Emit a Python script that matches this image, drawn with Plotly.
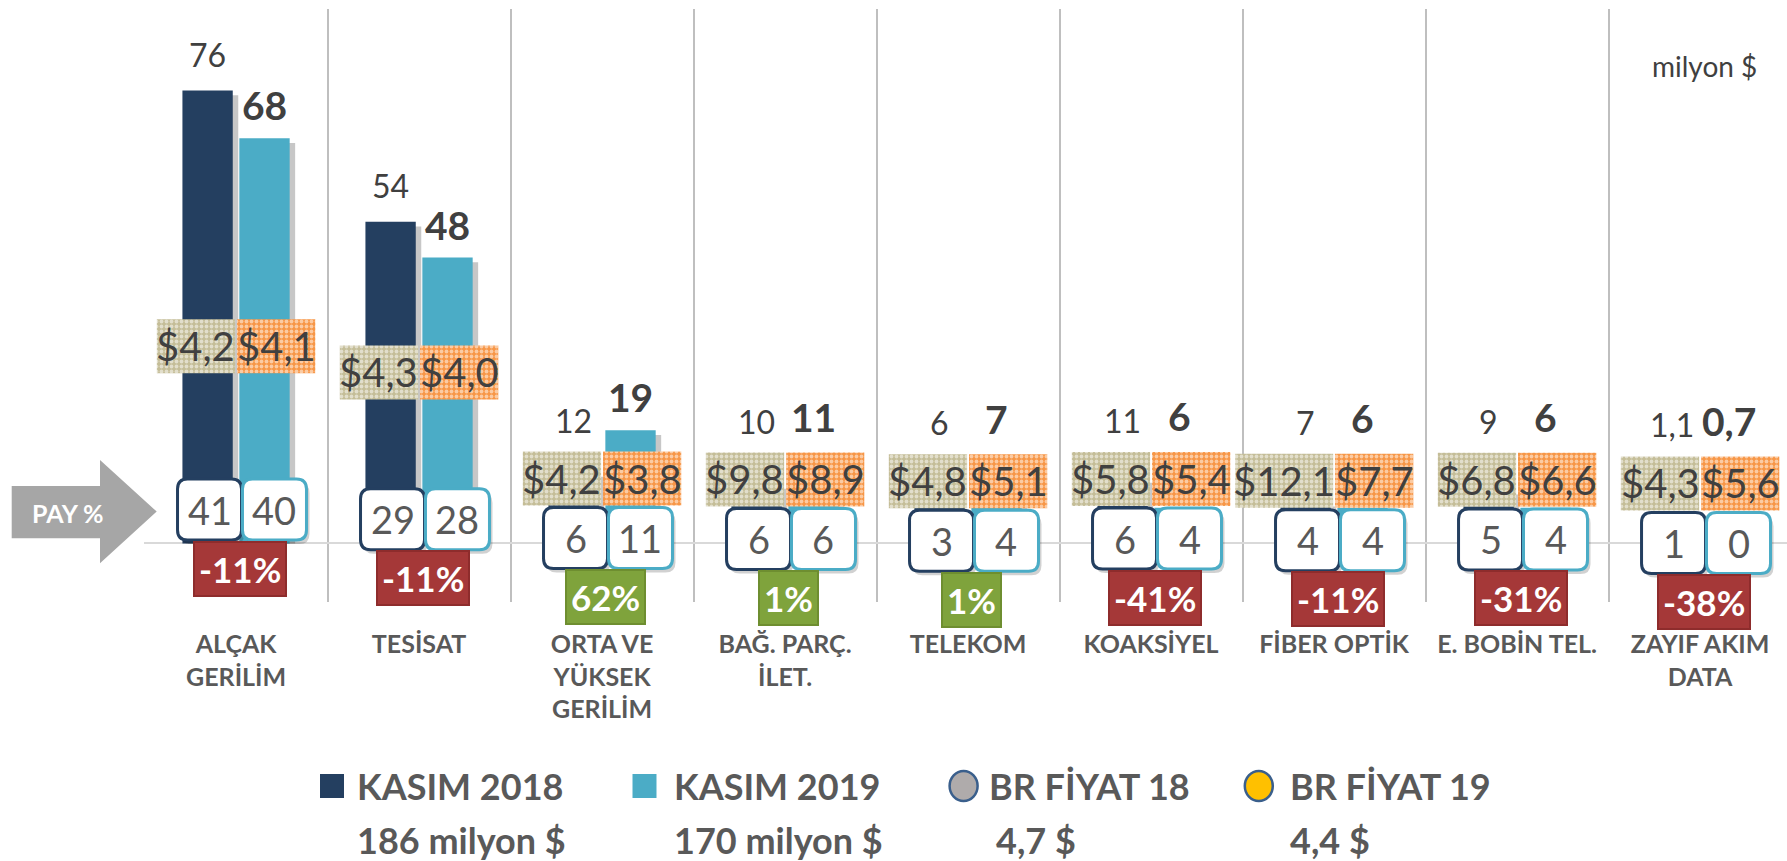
import plotly.graph_objects as go

# ---------------- data ----------------
categories = ["ALÇAK<br>GERİLİM", "TESİSAT", "ORTA VE<br>YÜKSEK<br>GERİLİM", "BAĞ. PARÇ.<br>İLET.",
              "TELEKOM", "KOAKSİYEL", "FİBER OPTİK", "E. BOBİN TEL.", "ZAYIF AKIM<br>DATA"]
sales_2018 = [76, 54, 12, 10, 6, 11, 7, 9, 1.1]
sales_2019 = [68, 48, 19, 11, 7, 6, 6, 6, 0.7]
price_2018 = [4.2, 4.3, 4.2, 9.8, 4.8, 5.8, 12.1, 6.8, 4.3]
price_2019 = [4.1, 4.0, 3.8, 8.9, 5.1, 5.4, 7.7, 6.6, 5.6]
share_2018 = [41, 29, 6, 6, 3, 6, 4, 5, 1]
share_2019 = [40, 28, 11, 6, 4, 4, 4, 4, 0]
change_pct = [-11, -11, 62, 1, 1, -41, -11, -31, -38]
legend_names = ["KASIM 2018", "KASIM 2019", "BR FİYAT 18", "BR FİYAT 19"]
legend_totals = ["186 milyon $", "170 milyon $", "4,7 $", "4,4 $"]
unit_label = "milyon $"
share_label = "PAY %"

# ---------------- layout constants ----------------
W, H = 1787, 861
ML, MR, MT, MB = 144, 0, 9, 259
YMIN, YMAX = -9.82, 89.68
XMIN, XMAX = -0.503, 8.475
PW, PH = W - ML - MR, H - MT - MB
PPU = PH / (YMAX - YMIN)          # pixels per data unit

FONT = "Lato, 'Open Sans', sans-serif"
C18, C19 = "#243F60", "#4BACC6"
TXT = "#404040"
GRAY = "#595959"

BAR_W = 0.275
OFF18, OFF19 = -0.293, 0.018
CEN18, CEN19 = OFF18 + BAR_W / 2, OFF19 + BAR_W / 2


def fmt(v):
    return str(int(v)) if float(v).is_integer() else f"{v:.1f}".replace(".", ",")


def money(v):
    return "$" + f"{v:.1f}".replace(".", ",")


def xp(px):
    return (px - ML) / PW


def yp(py):
    return (H - MB - py) / PH


n = len(categories)
idx = list(range(n))

# label placement rules (data units)
pay_y = [0.075 * v for v in sales_2018]
price_y = [0.2 * v + 17.9 if v > 30 else p + 10 for v, p in zip(sales_2018, pay_y)]
lbl18_y = [max(v + 6, p + 9.8) for v, p in zip(sales_2018, price_y)]
lbl19_y = [max(v + 5.5, p + 10.5) for v, p in zip(sales_2019, price_y)]
PCT_SHIFT = -9.9 * PPU

BOX_H = 54 / PPU
txt18 = [money(v) for v in price_2018]
txt19 = [money(v) for v in price_2019]
w18 = [0.107 * len(t) for t in txt18]
w19 = [0.107 * len(t) for t in txt19]

fig = go.Figure()

# bar shadows
for vals, off in ((sales_2018, OFF18), (sales_2019, OFF19)):
    fig.add_trace(go.Bar(x=categories, y=[max(v - 0.8, 0) for v in vals], offset=off + 0.03, width=BAR_W,
                         marker=dict(color="rgba(0,0,0,0.22)", line=dict(width=0)),
                         hoverinfo="skip", showlegend=False))
# main bars
fig.add_trace(go.Bar(x=categories, y=sales_2018, offset=OFF18, width=BAR_W, name=legend_names[0],
                     marker=dict(color=C18, line=dict(width=0)), showlegend=False))
fig.add_trace(go.Bar(x=categories, y=sales_2019, offset=OFF19, width=BAR_W, name=legend_names[1],
                     marker=dict(color=C19, line=dict(width=0)), showlegend=False))

# patterned price boxes
fig.add_trace(go.Bar(x=categories, y=[BOX_H] * n, base=[p - BOX_H / 2 for p in price_y],
                     offset=[-0.005 - w for w in w18], width=w18, name=legend_names[2],
                     marker=dict(color="#C4BD97", line=dict(width=0),
                                 pattern=dict(shape=".", fgcolor="white", size=5, solidity=0.45,
                                              fillmode="overlay")),
                     hoverinfo="skip", showlegend=False))
fig.add_trace(go.Bar(x=categories, y=[BOX_H] * n, base=[p - BOX_H / 2 for p in price_y],
                     offset=[0.005] * n, width=w19, name=legend_names[3],
                     marker=dict(color="#F79646", line=dict(width=0),
                                 pattern=dict(shape=".", fgcolor="white", size=5, solidity=0.45,
                                              fillmode="overlay")),
                     hoverinfo="skip", showlegend=False))

annotations = []
shapes = []

# price texts
for i in idx:
    annotations.append(dict(x=i - 0.005 - w18[i] / 2, y=price_y[i], xref="x", yref="y", text=txt18[i],
                            showarrow=False, font=dict(family=FONT, size=40, color=TXT)))
    annotations.append(dict(x=i + 0.005 + w19[i] / 2, y=price_y[i], xref="x", yref="y", text=txt19[i],
                            showarrow=False, font=dict(family=FONT, size=40, color=TXT)))

# value labels
for i in idx:
    annotations.append(dict(x=i + CEN18, y=lbl18_y[i], xref="x", yref="y", text=fmt(sales_2018[i]),
                            showarrow=False, font=dict(family=FONT, size=32, color=TXT)))
    annotations.append(dict(x=i + CEN19, y=lbl19_y[i], xref="x", yref="y", text=fmt(sales_2019[i]),
                            showarrow=False, font=dict(family=FONT, size=39, color=TXT, weight="bold")))


def rrect(w, h, r, dx=0, dy=0):
    x0, x1 = -w / 2 + dx, w / 2 + dx
    y0, y1 = -h / 2 + dy, h / 2 + dy
    return (f"M {x0 + r},{y0} L {x1 - r},{y0} Q {x1},{y0} {x1},{y0 + r} L {x1},{y1 - r} "
            f"Q {x1},{y1} {x1 - r},{y1} L {x0 + r},{y1} Q {x0},{y1} {x0},{y1 - r} "
            f"L {x0},{y0 + r} Q {x0},{y0} {x0 + r},{y0} Z")


PAY_C18, PAY_C19 = -0.145, 0.21
for i in idx:
    for c, col, val in ((PAY_C18, C18, share_2018[i]), (PAY_C19, C19, share_2019[i])):
        common = dict(type="path", xref="x", yref="y", xsizemode="pixel", ysizemode="pixel",
                      xanchor=i + c, yanchor=pay_y[i])
        shapes.append(dict(path=rrect(64, 61, 10, 3, -4), fillcolor="rgba(0,0,0,0.18)",
                           line=dict(width=0), **common))
        shapes.append(dict(path=rrect(64, 61, 10), fillcolor="white",
                           line=dict(color=col, width=3), **common))
        annotations.append(dict(x=i + c, y=pay_y[i], xref="x", yref="y", text=str(val), showarrow=False,
                                font=dict(family=FONT, size=38, color=GRAY)))

# change boxes (anchored at the share boxes, shifted down in pixels)
for i in idx:
    v = change_pct[i]
    annotations.append(dict(x=i + 0.02, y=pay_y[i], yshift=PCT_SHIFT, xref="x", yref="y", text=f"{v}%",
                            showarrow=False, xanchor="center", yanchor="middle", height=44,
                            font=dict(family=FONT, size=35, color="white", weight="bold"),
                            bgcolor="#A53838" if v < 0 else "#7FA33C",
                            bordercolor="#8E2C2C" if v < 0 else "#6E8E30", borderwidth=2, borderpad=4))

# unit label
annotations.append(dict(x=xp(1704), y=yp(66), xref="paper", yref="paper", text=unit_label, showarrow=False,
                        xanchor="center", yanchor="middle",
                        font=dict(family=FONT, size=28, color=TXT)))

# PAY % arrow
pts = [(11.7, 486), (100, 486), (100, 460), (156.7, 511.6), (100, 563.3), (100, 538.3), (11.7, 538.3)]
path = "M " + " L ".join(f"{xp(a)},{yp(b)}" for a, b in pts) + " Z"
shapes.append(dict(type="path", xref="paper", yref="paper", path=path, fillcolor="#A6A6A6",
                   line=dict(width=0)))
annotations.append(dict(x=xp(67), y=yp(513), xref="paper", yref="paper", text=share_label, showarrow=False,
                        xanchor="center", yanchor="middle",
                        font=dict(family=FONT, size=25, color="white", weight="bold")))

# custom legend
marker_cx = [332, 644.5, 963.6, 1258.8]
text_x = [355, 672, 987, 1288]
sub_x = [355, 672, 994, 1288]
LEG_Y1, LEG_Y2 = 786, 840
for k in range(4):
    cx = marker_cx[k]
    if k < 2:
        shapes.append(dict(type="rect", xref="paper", yref="paper", x0=xp(cx - 12), x1=xp(cx + 12),
                           y0=yp(LEG_Y1 + 12), y1=yp(LEG_Y1 - 12), fillcolor=[C18, C19][k],
                           line=dict(width=0)))
    else:
        shapes.append(dict(type="circle", xref="paper", yref="paper", x0=xp(cx - 14), x1=xp(cx + 14),
                           y0=yp(LEG_Y1 + 15), y1=yp(LEG_Y1 - 15),
                           fillcolor=["#AFABAB", "#FFC000"][k - 2], line=dict(color="#3A5F8C", width=2.5)))
    annotations.append(dict(x=xp(text_x[k]), y=yp(LEG_Y1), xref="paper", yref="paper", text=legend_names[k],
                            showarrow=False, xanchor="left", yanchor="middle",
                            font=dict(family=FONT, size=36, color=GRAY, weight="bold")))
    annotations.append(dict(x=xp(sub_x[k]), y=yp(LEG_Y2), xref="paper", yref="paper", text=legend_totals[k],
                            showarrow=False, xanchor="left", yanchor="middle",
                            font=dict(family=FONT, size=36, color=GRAY, weight="bold")))

fig.update_layout(
    width=W, height=H, autosize=False,
    margin=dict(l=ML, r=MR, t=MT, b=MB, pad=0),
    paper_bgcolor="white", plot_bgcolor="white",
    barmode="overlay", showlegend=False,
    font=dict(family=FONT, color=TXT),
    shapes=shapes, annotations=annotations,
    xaxis=dict(type="category", range=[XMIN, XMAX], tickson="boundaries", showgrid=True,
               gridcolor="#BFBFBF", gridwidth=1.5, ticks="", showline=False, zeroline=False,
               ticklabelstandoff=25,
               tickfont=dict(family=FONT, size=25, color=GRAY, weight="bold")),
    yaxis=dict(range=[YMIN, YMAX], showgrid=False, showticklabels=False, ticks="",
               zeroline=True, zerolinecolor="#D9D9D9", zerolinewidth=2, showline=False),
)

fig.write_html("out.html", config={"displayModeBar": False},
               post_script="document.body.style.margin='0';document.body.style.overflow='hidden';")
